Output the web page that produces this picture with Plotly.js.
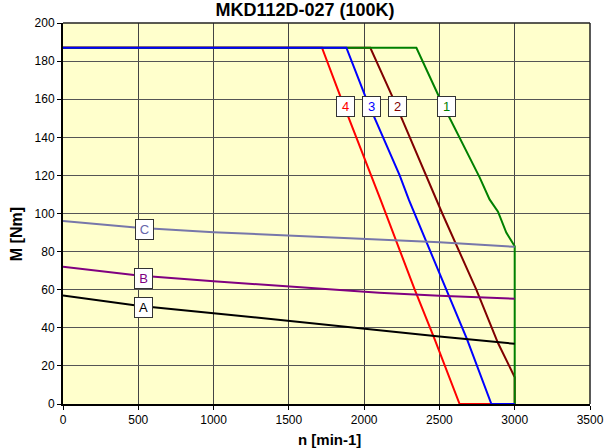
<!DOCTYPE html>
<html>
<head>
<meta charset="utf-8">
<script src="https://cdn.plot.ly/plotly-3.0.1.min.js"></script>
<style>html,body{margin:0;padding:0;background:#fff;}#chart{width:615px;height:448px;}</style>
</head>
<body>
<div id="chart"></div>
<script>
// Curve 1 (green)
var n1 = [0, 2347, 2505, 2767, 2833, 2889, 2944, 2977, 3000, 3000];
var m1 = [187, 187, 160, 119, 107.4, 101, 90, 85.4, 82.8, 0];
// Curve 2 (dark red)
var n2 = [0, 2041, 2195, 2410, 2480, 2519, 2745, 2889, 2988, 3000, 3000];
var m2 = [187, 187, 160, 120, 107, 100, 60, 32, 16, 14, 0];
// Curve 3 (blue)
var n3 = [0, 1882, 2015, 2236, 2298, 2546, 2683, 2845, 3000];
var m3 = [187, 187, 160, 120, 107, 60, 34, 0, 0];
// Curve 4 (red)
var n4 = [0, 1720, 1849, 2050, 2110, 2336, 2468, 2634, 2850];
var m4 = [187, 187, 160, 120, 107, 60, 34, 0, 0];
// Curves A, B, C
var nABC = [0, 500, 1000, 1500, 2100, 2500, 3000];
var mC = [96, 92.5, 90.2, 88.4, 86.3, 84.9, 82.5];
var mB = [72, 67.4, 64.4, 61.5, 58.4, 56.8, 55.3];
var mA = [57, 51.6, 47.7, 43.6, 38.4, 35.4, 31.6];

// Label boxes
var labelText = ['1', '2', '3', '4', 'C', 'B', 'A'];
var labelN = [2546, 2220, 2050, 1878, 540, 535, 535];
var labelM = [156, 156, 156, 156, 91.4, 65.8, 50.9];
var labelColor = ['#008000', '#800000', '#0000FF', '#FF0000', '#6666AA', '#800080', '#000000'];

var xTicks = [0, 500, 1000, 1500, 2000, 2500, 3000, 3500];
var yTicks = [0, 20, 40, 60, 80, 100, 120, 140, 160, 180, 200];

var FONT = 'Liberation Sans, Arial, sans-serif';

function tr(x, y, color) {
  return {x: x, y: y, type: 'scatter', mode: 'lines', line: {color: color, width: 2}, hoverinfo: 'skip', showlegend: false};
}
var data = [
  tr(n4, m4, '#FF0000'),
  tr(n2, m2, '#800000'),
  tr(n1, m1, '#008000'),
  tr(n3, m3, '#0000FF'),
  tr(nABC, mC, '#7777AA'),
  tr(nABC, mB, '#800080'),
  tr(nABC, mA, '#000000')
];

var annotations = labelText.map(function (t, i) {
  return {
    x: labelN[i], y: labelM[i], xref: 'x', yref: 'y', text: t, showarrow: false,
    font: {family: FONT, size: 13, color: labelColor[i]},
    bgcolor: '#FFFFFF', bordercolor: '#333333', borderwidth: 1, borderpad: 2,
    width: 13, height: 15
  };
});
annotations.push({
  text: '<b>n [min-1]</b>', xref: 'paper', yref: 'paper', x: 0.506, y: -0.092,
  xanchor: 'center', yanchor: 'middle', showarrow: false,
  font: {family: FONT, size: 15, color: '#000'}
});
annotations.push({
  text: '<b>M [Nm]</b>', xref: 'paper', yref: 'paper', x: -0.089, y: 0.446,
  xanchor: 'center', yanchor: 'middle', showarrow: false, textangle: -90,
  font: {family: FONT, size: 16, color: '#000'}
});

var layout = {
  width: 615, height: 448,
  margin: {l: 63, r: 25, t: 23, b: 44},
  paper_bgcolor: '#FFFFFF',
  plot_bgcolor: '#FFFFCC',
  title: {text: '<b>MKD112D-027 (100K)</b>', x: 0.496, xanchor: 'center', y: 0.978, yanchor: 'middle',
    font: {family: FONT, size: 18, color: '#000'}},
  font: {family: FONT, size: 12, color: '#000'},
  xaxis: {
    range: [0, 3500], tickvals: xTicks, ticktext: xTicks.map(String),
    showgrid: true, gridcolor: '#444444', gridwidth: 1,
    showline: true, linecolor: '#000', linewidth: 2, mirror: false,
    ticks: 'outside', ticklen: 4, tickcolor: '#000', zeroline: false,
    tickfont: {size: 12}
  },
  yaxis: {
    range: [0, 200], tickvals: yTicks, ticktext: yTicks.map(String),
    showgrid: true, gridcolor: '#555555', gridwidth: 1,
    showline: true, linecolor: '#000', linewidth: 2, mirror: false,
    ticks: 'outside', ticklen: 4, tickcolor: '#000', zeroline: false,
    tickfont: {size: 12}
  },
  shapes: [
    {type: 'line', xref: 'paper', yref: 'paper', x0: 0, x1: 1, y0: 1, y1: 1, line: {color: '#222', width: 1.5}},
    {type: 'line', xref: 'paper', yref: 'paper', x0: 1, x1: 1, y0: 0, y1: 1, line: {color: '#222', width: 1.5}}
  ],
  annotations: annotations,
  showlegend: false
};

Plotly.newPlot('chart', data, layout, {displayModeBar: false, staticPlot: true});
</script>
</body>
</html>
